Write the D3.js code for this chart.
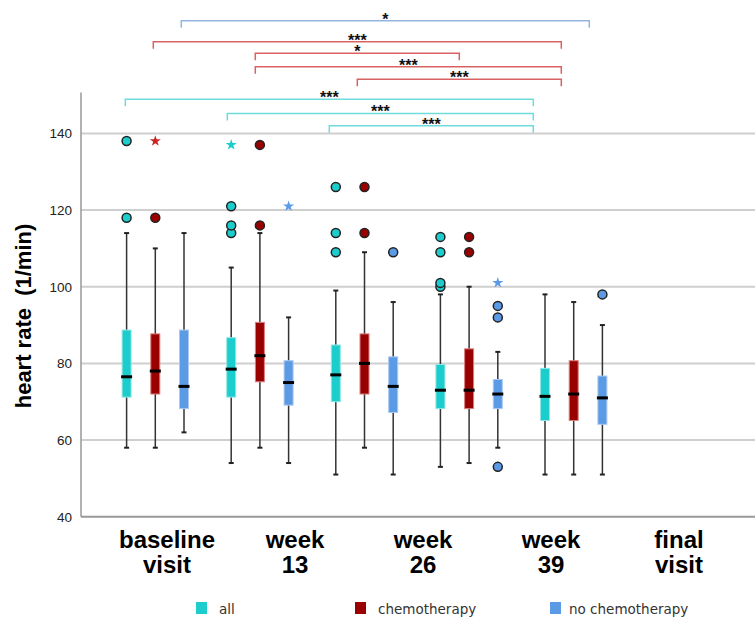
<!doctype html>
<html>
  <head>
    <meta charset="utf-8">
    <title>Heart rate</title>
    <script src="https://cdn.jsdelivr.net/npm/d3@7"></script>
    <style>
      body { margin: 0; background: #fff; }
      text { font-family: Arial, "Liberation Sans", sans-serif; }
    </style>
  </head>
  <body>
    <script>
      // visits (x categories) and groups
      const visits = ['baseline visit', 'week 13', 'week 26', 'week 39', 'final visit'];
      const groups = ['all', 'chemotherapy', 'no chemotherapy'];
      const yTicks = [40, 60, 80, 100, 120, 140];

      // box statistics per group, one value per visit
      const allLow = [58, 54, 51, 53, 51];
      const allQ1 = [71.2, 71.2, 70, 68.2, 65.1];
      const allMedian = [76.5, 78.5, 77, 73, 71.4];
      const allQ3 = [88.7, 86.7, 84.8, 79.7, 78.7];
      const allHigh = [114, 105, 99, 98, 98];
      const allOutliers = [[118, 138], [114, 116, 121], [109, 114, 126], [100, 101, 109, 113], []];
      const allExtremes = [[], [137], [], [], []];

      const chemoLow = [58, 58, 58, 54, 51];
      const chemoQ1 = [72, 75.2, 72, 68.2, 65.1];
      const chemoMedian = [78, 82, 80, 73, 72];
      const chemoQ3 = [87.7, 90.7, 87.7, 83.8, 80.7];
      const chemoHigh = [110, 114, 109, 100, 96];
      const chemoOutliers = [[118], [116, 137], [114, 126], [109, 113], []];
      const chemoExtremes = [[138], [], [], [], []];

      const noChemoLow = [62, 54, 51, 58, 51];
      const noChemoQ1 = [68.2, 69.1, 67.2, 68.2, 64.1];
      const noChemoMedian = [74, 75, 74, 72, 71];
      const noChemoQ3 = [88.7, 80.7, 81.7, 75.8, 76.7];
      const noChemoHigh = [114, 92, 96, 83, 90];
      const noChemoOutliers = [[], [], [109], [53, 92, 95], [98]];
      const noChemoExtremes = [[], [121], [], [101], []];

      // significance brackets (group, from visit, to visit, label, level in 1/min units)
      const sigGroup = ['no chemotherapy', 'chemotherapy', 'chemotherapy', 'chemotherapy', 'chemotherapy', 'all', 'all', 'all'];
      const sigFrom = [0, 0, 1, 1, 2, 0, 1, 2];
      const sigTo = [4, 4, 3, 4, 4, 4, 4, 4];
      const sigLabel = ['*', '***', '*', '***', '***', '***', '***', '***'];
      const sigLevel = [169.4, 163.9, 160.9, 157.4, 154.1, 148.9, 145.2, 142.0];

      const colors = { 'all': '#1ccdcd', 'chemotherapy': '#990000', 'no chemotherapy': '#5b9be6' };
      const borders = { 'all': '#93e6e6', 'chemotherapy': '#d98080', 'no chemotherapy': '#a9c9f0' };
      const bracketColors = { 'all': '#6edcdc', 'chemotherapy': '#d96262', 'no chemotherapy': '#93b6e0' };

      const stats = {
        'all': [allLow, allQ1, allMedian, allQ3, allHigh, allOutliers, allExtremes],
        'chemotherapy': [chemoLow, chemoQ1, chemoMedian, chemoQ3, chemoHigh, chemoOutliers, chemoExtremes],
        'no chemotherapy': [noChemoLow, noChemoQ1, noChemoMedian, noChemoQ3, noChemoHigh, noChemoOutliers, noChemoExtremes]
      };

      const boxes = [];
      groups.forEach(g => {
        const [lo, q1, med, q3, hi, outs, ext] = stats[g];
        visits.forEach((v, i) => {
          boxes.push({ group: g, visit: v, low: lo[i], q1: q1[i], median: med[i], q3: q3[i], high: hi[i], outliers: outs[i], extremes: ext[i] });
        });
      });

      const width = 755;
      const height = 618;
      const axisX = 81;

      const svg = d3.select('body').append('svg')
          .attr('width', width)
          .attr('height', height);

      // scales
      const y = d3.scaleLinear().domain([40, 150.7]).range([516.7, 92.4]);
      const xVisit = d3.scaleBand().domain(visits).range([103, 626]);
      const xGroup = d3.scalePoint().domain(groups).range([-28.7, 28.7]);
      const xLabel = d3.scaleBand().domain(visits).range([103, 743]);
      // bracket overlay sits on a slightly narrower copy of the box positions
      const xBracketVisit = d3.scaleBand().domain(visits).range([102.3, 612.3]);
      const xBracketGroup = d3.scalePoint().domain(groups).range([-28, 28]);

      const bx = d => xVisit(d.visit) + xVisit.bandwidth() / 2 + xGroup(d.group);

      // grid lines
      svg.append('g')
        .selectAll('line')
        .data(yTicks.filter(t => t > 40))
        .enter().append('line')
          .attr('x1', axisX)
          .attr('x2', width)
          .attr('y1', d => y(d))
          .attr('y2', d => y(d))
          .attr('stroke', '#cfcfcf')
          .attr('stroke-width', 2);

      // y axis
      const yAxis = svg.append('g')
          .attr('transform', `translate(${axisX},0)`)
          .call(d3.axisLeft(y).tickValues(yTicks).tickSize(0).tickPadding(9));
      yAxis.select('.domain').remove();
      yAxis.selectAll('text')
          .attr('font-size', 13.5)
          .attr('fill', '#222')
          .style('font-family', 'Arial, "Liberation Sans", sans-serif');

      svg.append('line')
          .attr('x1', axisX).attr('x2', axisX)
          .attr('y1', y.range()[1]).attr('y2', y(40))
          .attr('stroke', '#999')
          .attr('stroke-width', 1.5);
      svg.append('line')
          .attr('x1', axisX).attr('x2', width)
          .attr('y1', y(40)).attr('y2', y(40))
          .attr('stroke', '#999')
          .attr('stroke-width', 2);

      // y title
      svg.append('text')
          .attr('transform', `translate(31, 316) rotate(-90)`)
          .attr('text-anchor', 'middle')
          .attr('font-size', 22)
          .attr('font-weight', 'bold')
          .attr('fill', '#000')
          .text('heart rate\u00a0 (1/min)');

      // x category labels
      const xl = svg.append('g')
        .selectAll('text')
        .data(visits)
        .enter().append('text')
          .attr('text-anchor', 'middle')
          .attr('font-size', 24)
          .attr('font-weight', 'bold')
          .attr('fill', '#000');
      xl.each(function(d) {
        const parts = d.split(' ');
        const cx = xLabel(d) + xLabel.bandwidth() / 2;
        d3.select(this).selectAll('tspan')
          .data(parts)
          .enter().append('tspan')
            .attr('x', cx)
            .attr('y', (p, i) => 548 + i * 25)
            .text(p => p);
      });

      // boxes
      const gBox = svg.append('g')
        .selectAll('g')
        .data(boxes)
        .enter().append('g')
          .attr('transform', d => `translate(${bx(d)},0)`);

      gBox.append('line')
          .attr('y1', d => y(d.low))
          .attr('y2', d => y(d.high))
          .attr('stroke', '#333')
          .attr('stroke-width', 1.5);

      gBox.selectAll('.cap')
        .data(d => [d.low, d.high])
        .enter().append('line')
          .attr('x1', -2.5).attr('x2', 2.5)
          .attr('y1', d => y(d)).attr('y2', d => y(d))
          .attr('stroke', '#222')
          .attr('stroke-width', 2);

      gBox.append('rect')
          .attr('x', -4.5)
          .attr('width', 9)
          .attr('y', d => y(d.q3))
          .attr('height', d => y(d.q1) - y(d.q3))
          .attr('fill', d => colors[d.group])
          .attr('stroke', d => borders[d.group])
          .attr('stroke-width', 1);

      gBox.append('line')
          .attr('x1', -5.5).attr('x2', 5.5)
          .attr('y1', d => y(d.median)).attr('y2', d => y(d.median))
          .attr('stroke', '#000')
          .attr('stroke-width', 3);

      gBox.selectAll('circle')
        .data(d => d.outliers.map(v => ({ v, group: d.group })))
        .enter().append('circle')
          .attr('cy', d => y(d.v))
          .attr('r', 4.5)
          .attr('fill', d => colors[d.group])
          .attr('stroke', '#222')
          .attr('stroke-width', 1.5);

      gBox.selectAll('.star')
        .data(d => d.extremes.map(v => ({ v, group: d.group })))
        .enter().append('path')
          .attr('d', d3.symbol().type(d3.symbolStar).size(38))
          .attr('transform', d => `translate(0,${y(d.v)})`)
          .attr('fill', d => d.group === 'chemotherapy' ? '#cc2222' : colors[d.group]);

      // significance brackets
      const brackets = sigLabel.map((label, i) => {
        const off = xBracketVisit.bandwidth() / 2 + xBracketGroup(sigGroup[i]);
        return {
          label,
          group: sigGroup[i],
          x1: xBracketVisit(visits[sigFrom[i]]) + off,
          x2: xBracketVisit(visits[sigTo[i]]) + off,
          y: y(sigLevel[i])
        };
      });

      const gSig = svg.append('g')
        .selectAll('g')
        .data(brackets)
        .enter().append('g');

      gSig.append('path')
          .attr('d', d => `M${d.x1},${d.y + 7}V${d.y}H${d.x2}V${d.y + 7}`)
          .attr('fill', 'none')
          .attr('stroke', d => bracketColors[d.group])
          .attr('stroke-width', 1.5);

      gSig.append('text')
          .attr('x', d => (d.x1 + d.x2) / 2)
          .attr('y', d => d.y + 4)
          .attr('text-anchor', 'middle')
          .attr('font-size', 16)
          .attr('font-weight', 'bold')
          .attr('fill', '#111')
          .text(d => d.label);

      // legend
      const legendX = [196, 355, 550];
      const gLegend = svg.append('g')
        .selectAll('g')
        .data(groups)
        .enter().append('g')
          .attr('transform', (d, i) => `translate(${legendX[i]},602)`);

      gLegend.append('rect')
          .attr('width', 11)
          .attr('height', 12)
          .attr('fill', d => colors[d]);

      gLegend.append('text')
          .attr('x', d => d === 'no chemotherapy' ? 19 : 23)
          .attr('y', 12)
          .attr('font-size', 13.5)
          .attr('fill', '#333')
          .style('font-family', '"DejaVu Sans", sans-serif')
          .text(d => d);
    </script>
  </body>
</html>
